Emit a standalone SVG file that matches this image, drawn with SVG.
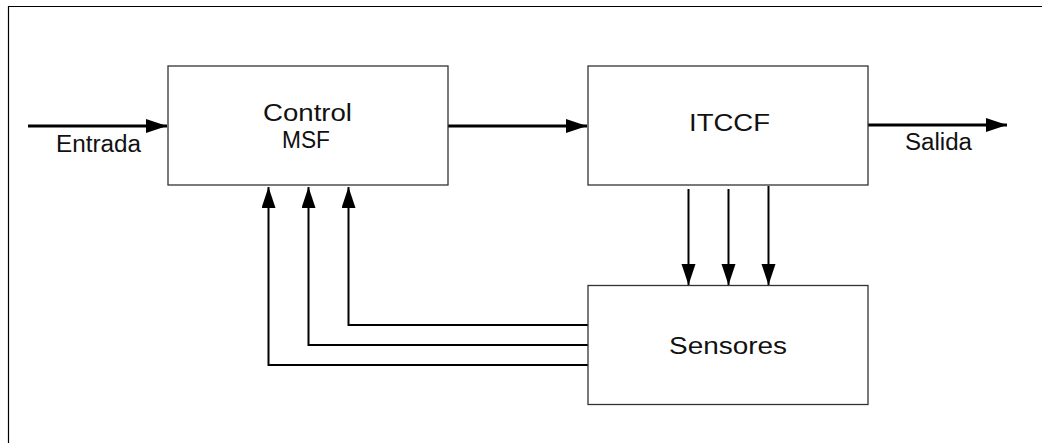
<svg xmlns="http://www.w3.org/2000/svg" width="1042" height="443" viewBox="0 0 1042 443">
<style>
.box{fill:#fff;stroke:#333;stroke-width:1.3}
.lbl{font-family:"Liberation Sans",Arial,sans-serif;font-size:23.5px;fill:#111}
.main{stroke:#000;stroke-width:3;fill:none}
.fb{stroke:#000;stroke-width:2;fill:none}
</style>
<defs>
<marker id="ah" markerUnits="userSpaceOnUse" markerWidth="22" markerHeight="16" refX="21" refY="7" orient="auto">
<path d="M0,0 L21,7 L0,14 Z" fill="#000"/>
</marker>
</defs>
<rect width="1042" height="443" fill="#fff"/>
<path d="M8.5,443 V6.5 H1042" fill="none" stroke="#000" stroke-width="1.2"/>
<g id="connectors">
<line class="main" x1="28" y1="126" x2="167" y2="126" marker-end="url(#ah)"/>
<line class="main" x1="448" y1="126" x2="587" y2="126" marker-end="url(#ah)"/>
<line class="main" x1="868" y1="125" x2="1007" y2="125" marker-end="url(#ah)"/>
<polyline class="fb" points="588,325 348.5,325 348.5,187" marker-end="url(#ah)"/>
<polyline class="fb" points="588,345 308.5,345 308.5,187" marker-end="url(#ah)"/>
<polyline class="fb" points="588,365 268.5,365 268.5,187" marker-end="url(#ah)"/>
<line class="fb" x1="688.5" y1="189" x2="688.5" y2="285" marker-end="url(#ah)"/>
<line class="fb" x1="728.5" y1="189" x2="728.5" y2="285" marker-end="url(#ah)"/>
<line class="fb" x1="768.5" y1="186" x2="768.5" y2="285" marker-end="url(#ah)"/>
</g>
<g id="entrada"><text class="lbl" x="56" y="152" textLength="85" lengthAdjust="spacingAndGlyphs">Entrada</text></g>
<g id="salida"><text class="lbl" x="905" y="150" textLength="67" lengthAdjust="spacingAndGlyphs">Salida</text></g>
<g id="control">
<rect class="box" x="168" y="66" width="280" height="119"/>
<text class="lbl" x="263" y="121" textLength="89" lengthAdjust="spacingAndGlyphs">Control</text>
<text class="lbl" x="282" y="148" textLength="48" lengthAdjust="spacingAndGlyphs">MSF</text>
</g>
<g id="itccf">
<rect class="box" x="588" y="66" width="280" height="119"/>
<text class="lbl" x="689" y="131" textLength="81" lengthAdjust="spacingAndGlyphs">ITCCF</text>
</g>
<g id="sensores">
<rect class="box" x="588" y="285.5" width="280" height="119"/>
<text class="lbl" x="669" y="354" textLength="118" lengthAdjust="spacingAndGlyphs">Sensores</text>
</g>
</svg>
